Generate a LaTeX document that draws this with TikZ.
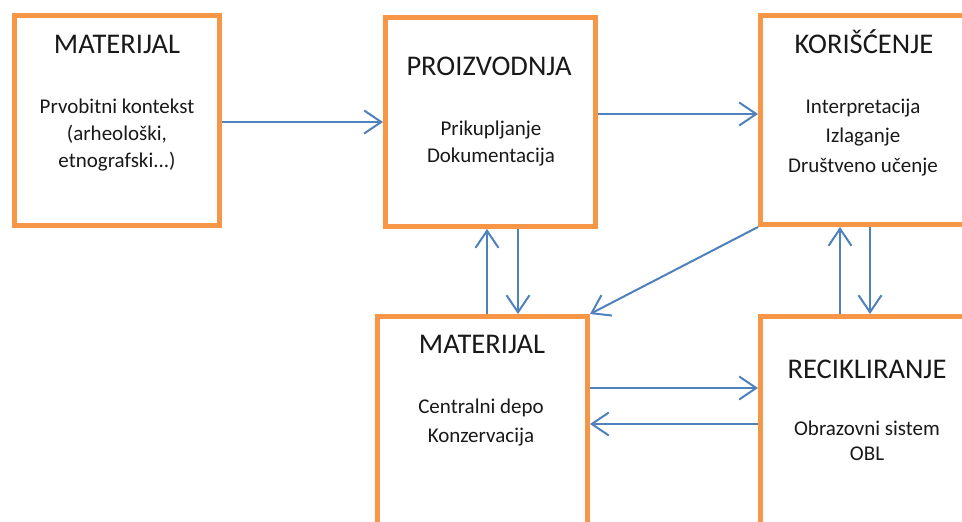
\documentclass[tikz,border=0pt]{standalone}
\usepackage{fontspec}
\setmainfont{Carlito}
\usetikzlibrary{arrows.meta}
\definecolor{boxorange}{HTML}{F79646}
\definecolor{arrblue}{HTML}{4F81BD}
\begin{document}
\begin{tikzpicture}[x=1pt,y=-1pt,
  box/.style={draw=boxorange,line width=5pt,rectangle,fill=white,inner sep=0pt},
  ttl/.style={anchor=base,font=\fontsize{28.5}{34}\selectfont,text=black!90,inner sep=0pt},
  body/.style={anchor=base,align=center,text=black!90,inner sep=0pt},
  arr/.style={draw=arrblue,line width=2pt,-{Straight Barb[length=17pt,width=23pt,line width=2pt]}}]
\useasboundingbox (0,0) rectangle (962,522);
\clip (0,0) rectangle (962,522);
\fill[white] (0,0) rectangle (962,522);
% boxes
\node[box,minimum width=205pt,minimum height=210pt] (b1) at (117,120.5) {};
\node[box,minimum width=210pt,minimum height=209pt] (b2) at (490.5,122) {};
\node[box,minimum width=230pt,minimum height=209pt] (b3) at (875.5,120) {};
\node[box,minimum width=210pt,minimum height=243pt] (b4) at (482.5,438) {};
\node[box,minimum width=230pt,minimum height=243pt] (b5) at (875.5,438) {};
% texts (base anchor = last line's baseline)
\node[ttl] (t1) at (117,53) {MATERIJAL};
\node[body,font=\fontsize{21}{27}\selectfont] (s1) at (117,167) {Prvobitni kontekst\\(arheološki,\\etnografski...)};
\node[ttl] (t2) at (489,75) {PROIZVODNJA};
\node[body,font=\fontsize{21}{27}\selectfont] (s2) at (491,162) {Prikupljanje\\Dokumentacija};
\node[ttl] (t3) at (864,53) {KORIŠĆENJE};
\node[body,font=\fontsize{21}{29.5}\selectfont] (s3) at (863,172) {Interpretacija\\Izlaganje\\Društveno učenje};
\node[ttl] (t4) at (482,353) {MATERIJAL};
\node[body,font=\fontsize{21}{29}\selectfont] (s4) at (481,442) {Centralni depo\\Konzervacija};
\node[ttl] (t5) at (867,378) {RECIKLIRANJE};
\node[body,font=\fontsize{21}{25}\selectfont] (s5) at (867,460) {Obrazovni sistem\\OBL};
% connectors
\draw[arr] (b1.east |- 0,122) -- (b2.west |- 0,122);
\draw[arr] (b2.east |- 0,114) -- (b3.west |- 0,114);
\draw[arr] (b4.north -| 487,0) -- (b2.south -| 487,0);
\draw[arr] (b2.south -| 518,0) -- (b4.north -| 518,0);
\draw[arr] (b3.south west) -- (b4.north east);
\draw[arr] (b5.north -| 840,0) -- (b3.south -| 840,0);
\draw[arr] (b3.south -| 870,0) -- (b5.north -| 870,0);
\draw[arr] (b4.east |- 0,388) -- (b5.west |- 0,388);
\draw[arr] (b5.west |- 0,424) -- (b4.east |- 0,424);
\end{tikzpicture}
\end{document}
